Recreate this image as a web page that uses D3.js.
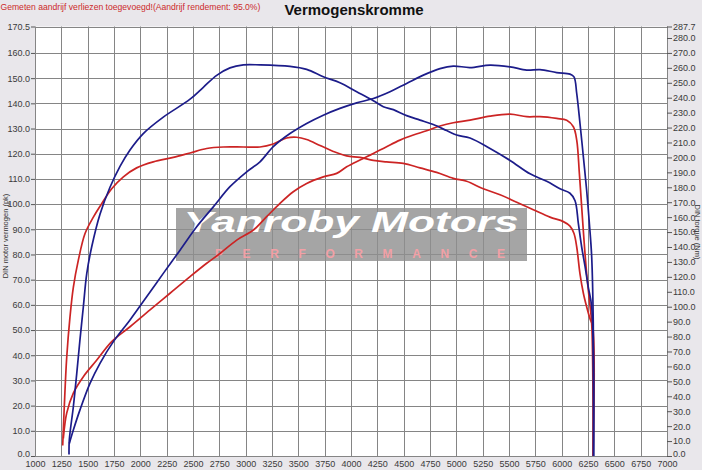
<!DOCTYPE html>
<html>
<head>
<meta charset="utf-8">
<script src="https://cdn.jsdelivr.net/npm/d3@7"></script>
<style>
  html, body { margin: 0; padding: 0; background: #e9e7eb; }
  svg { display: block; }
  text { font-family: Arial, "Liberation Sans", sans-serif; }
</style>
</head>
<body>
<svg id="chart" width="702" height="470"></svg>
<script>
// ---------- DATA ----------
const title = "Vermogenskromme";
const note = "Gemeten aandrijf verliezen toegevoegd!(Aandrijf rendement: 95.0%)";
const leftTitle = "DIN motor vermogen (pk)";
const rightTitle = "DIN torque (Nm)";
const rpmTicks = d3.range(1000, 7001, 250);
const powerTicks = [0,10,20,30,40,50,60,70,80,90,100,110,120,130,140,150,160,170.5];
const torqueTicks = [0,10,20,30,40,50,60,70,80,90,100,110,120,130,140,150,160,170,180,190,200,210,220,230,240,250,260,270,280,287.7];
const powerMax = 170.5;
const torqueMax = 287.7;

// red run: power (pk) [rpm, pk]
const redPower = [[1269,7],[1301,17],[1364,25],[1459,31.5],[1585,38],[1728,45.4],[1902,51.3],[2092,58],[2282,64.6],[2472,71.2],[2630,76.5],[2756,80.4],[2915,85.7],[3073,89.7],[3199,95],[3326,100.3],[3452,104.9],[3579,108.2],[3737,110.8],[3864,112.2],[3959,114.8],[4085,117.5],[4212,120.1],[4338,122.8],[4465,125.4],[4592,127.4],[4718,129.1],[4845,131],[4971,132.3],[5130,133.3],[5320,134.9],[5510,135.7],[5668,134.7],[5794,134.7],[5953,134],[6048,133.3],[6111,130.7],[6143,125.4],[6168,112.2],[6190,98.9],[6212,85.7],[6237,72.5],[6263,61.9],[6285,52.6],[6298,0]];
// red run: torque (Nm) [rpm, Nm]
const redTorque = [[1263,7],[1278,33],[1301,66],[1332,93],[1364,113],[1411,131],[1475,149],[1554,160],[1633,169],[1728,179],[1839,187],[1965,193],[2123,197],[2313,200],[2472,203],[2630,206],[2788,207],[2978,207],[3136,207],[3262,209],[3389,213],[3484,213.5],[3579,212],[3706,208],[3832,204],[3959,201],[4085,200],[4212,198],[4338,197],[4497,196],[4655,193],[4813,190],[4971,186],[5098,184],[5256,179],[5415,175],[5573,170],[5731,165],[5889,160],[6016,157],[6079,154],[6117,149],[6143,140],[6174,122],[6206,109],[6237,100],[6269,92],[6294,87],[6298,0]];
// blue run: power (pk)
const bluePower = [[1326,5],[1364,10.3],[1427,18.3],[1522,28.8],[1617,36.8],[1744,45.4],[1902,54],[2060,63.2],[2218,72.5],[2377,81.7],[2535,91],[2693,98.9],[2851,106.9],[3010,112.8],[3136,116.8],[3262,122.8],[3421,128],[3579,132],[3737,135.3],[3895,138],[4054,140.2],[4212,141.9],[4370,144.6],[4528,147.9],[4687,151.2],[4845,153.8],[4971,154.8],[5130,154.2],[5320,155.2],[5510,154.5],[5668,153.2],[5794,153.4],[5953,152.2],[6079,151.6],[6117,150.5],[6143,143.9],[6174,132],[6206,118.8],[6237,105.6],[6263,92.3],[6285,79.1],[6300,52.6],[6304,0]];
// blue run: torque (Nm)
const blueTorque = [[1323,1],[1326,11],[1364,33],[1396,55],[1427,78],[1459,100],[1491,122],[1538,140],[1617,162],[1712,180],[1807,194],[1902,205],[2028,216],[2218,227],[2472,239],[2598,247],[2725,255],[2851,260],[2978,262],[3136,262],[3421,261],[3579,259],[3737,254],[3895,250],[4054,244],[4212,238],[4307,234],[4402,232],[4528,228],[4655,225],[4781,222],[4908,218],[5003,215],[5130,213],[5320,206],[5510,198],[5700,189],[5858,184],[5984,179],[6079,176],[6127,171],[6158,156],[6190,140],[6222,127],[6253,113],[6285,100],[6302,0]];

const redColor = "#cc2424";
const blueColor = "#1c1c8a";

// ---------- CHART ----------
const svg = d3.select("#chart");
const L = 35, R = 667, T = 26.5, B = 456;
const x = d3.scaleLinear().domain([1000, 7000]).range([L, R]);
const yP = d3.scaleLinear().domain([0, powerMax]).range([B, T]);
const yT = d3.scaleLinear().domain([0, torqueMax]).range([B, T]);

svg.append("rect").attr("x", L).attr("y", T).attr("width", R - L).attr("height", B - T).attr("fill", "#ffffff");

// grid
const grid = svg.append("g");
grid.selectAll("line.v").data(rpmTicks).join("line")
  .attr("x1", d => Math.round(x(d)) + 0.5).attr("x2", d => Math.round(x(d)) + 0.5)
  .attr("y1", T).attr("y2", B)
  .attr("stroke", "#858585").attr("stroke-width", 1);
grid.selectAll("line.h").data(powerTicks).join("line")
  .attr("x1", L).attr("x2", R)
  .attr("y1", d => Math.round(yP(d)) + 0.5).attr("y2", d => Math.round(yP(d)) + 0.5)
  .attr("stroke", "#858585").attr("stroke-width", 1);

// watermark
const wm = svg.append("g");
wm.append("rect").attr("x", 176).attr("y", 208).attr("width", 351).attr("height", 53)
  .attr("fill", "#8e8e8e").attr("opacity", 0.8);
wm.append("text").attr("x", 351).attr("y", 232).attr("text-anchor", "middle")
  .attr("font-size", 30).attr("font-weight", "bold").attr("font-style", "italic")
  .attr("fill", "#ffffff").attr("textLength", 335).attr("lengthAdjust", "spacingAndGlyphs")
  .text("Yanroby Motors");
wm.append("text").attr("x", 360).attr("y", 258).attr("text-anchor", "middle")
  .attr("font-size", 12).attr("font-weight", "bold")
  .attr("fill", "#f2a0a6").attr("textLength", 290).attr("lengthAdjust", "spacing")
  .text("PERFORMANCE");

// axes
const axL = d3.axisLeft(yP).tickValues(powerTicks).tickSize(4).tickPadding(1)
  .tickFormat(d => d3.format(".1f")(d));
const gL = svg.append("g").attr("transform", `translate(${L},0)`).call(axL);
const axR = d3.axisRight(yT).tickValues(torqueTicks).tickSize(5).tickPadding(1)
  .tickFormat(d => d3.format(".1f")(d));
const gR = svg.append("g").attr("transform", `translate(${R},0)`).call(axR);
const axB = d3.axisBottom(x).tickValues(rpmTicks).tickSize(0).tickPadding(5)
  .tickFormat(d3.format("d"));
const gB = svg.append("g").attr("transform", `translate(0,${B})`).call(axB);
[gL, gR, gB].forEach(g => {
  g.select(".domain").remove();
  g.selectAll("text").attr("font-size", 9).attr("fill", "#3a3a3a")
    .attr("font-family", "Arial, 'Liberation Sans', sans-serif");
  g.selectAll(".tick line").attr("stroke", "#555");
});
// bottom-most value labels sit slightly higher, as in the reference
gL.selectAll(".tick text").filter(d => d === 0).attr("dy", "0.1em");
gR.selectAll(".tick text").filter(d => d === 0).attr("dy", "0.1em");

// curves
const lineP = d3.line().x(d => x(d[0])).y(d => yP(d[1])).curve(d3.curveCatmullRom.alpha(0.5));
const lineT = d3.line().x(d => x(d[0])).y(d => yT(d[1])).curve(d3.curveCatmullRom.alpha(0.5));
const curves = svg.append("g").attr("fill", "none").attr("stroke-width", 1.7).attr("stroke-linejoin", "round");
curves.append("path").attr("d", lineP(redPower)).attr("stroke", redColor);
curves.append("path").attr("d", lineT(redTorque)).attr("stroke", redColor);
curves.append("path").attr("d", lineP(bluePower)).attr("stroke", blueColor);
curves.append("path").attr("d", lineT(blueTorque)).attr("stroke", blueColor);

// titles
svg.append("text").attr("x", 354).attr("y", 15).attr("text-anchor", "middle")
  .attr("font-size", 15).attr("font-weight", "bold").attr("fill", "#111").text(title);
svg.append("text").attr("x", 0.5).attr("y", 10).attr("font-size", 8.6)
  .attr("fill", "#cc2a2a").text(note);
svg.append("text").attr("transform", "translate(8,236) rotate(-90)").attr("text-anchor", "middle")
  .attr("font-size", 7.5).attr("fill", "#333").text(leftTitle);
svg.append("text").attr("transform", "translate(695,232) rotate(90)").attr("text-anchor", "middle")
  .attr("font-size", 7.5).attr("fill", "#333").text(rightTitle);
</script>
</body>
</html>
